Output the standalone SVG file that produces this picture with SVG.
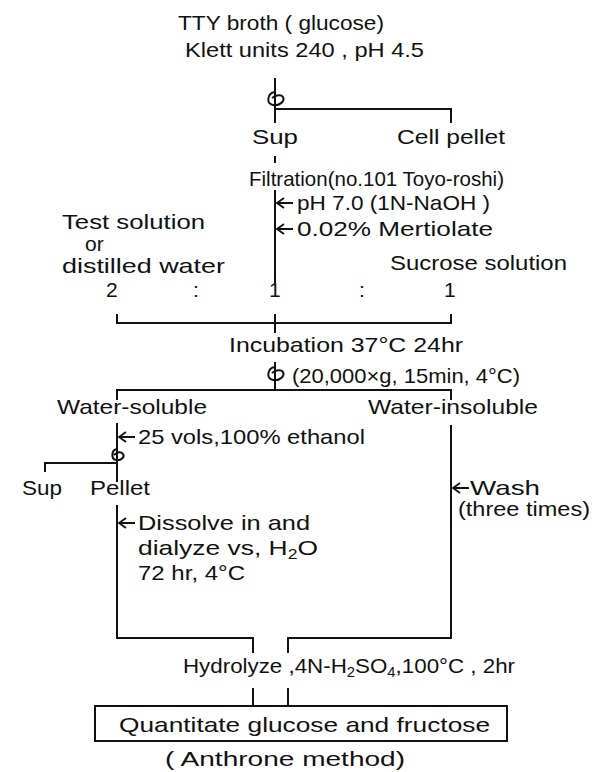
<svg xmlns="http://www.w3.org/2000/svg" width="592" height="772" viewBox="0 0 592 772">
<style>
text{font-family:"Liberation Sans",Arial,sans-serif;font-size:21px;fill:#111}
.l{stroke:#111;stroke-width:2;fill:none}
.a{stroke:#111;stroke-width:1.8;fill:none}
.c{stroke:#111;stroke-width:2;fill:none}
</style>
<rect width="592" height="772" fill="#fff"/>
<g id="connectors">
<path class="l" d="M275,78 V123 M275,109 H451 V123"/>
<path class="l" d="M275,156 V163"/>
<path class="l" d="M275,190 V283"/>
<path class="l" d="M117,314 V323 H451 V314 M275,314 V333"/>
<path class="l" d="M275,362 V390 M117,400 V390 H451 V400"/>
<path class="l" d="M117,423 V482 M45,472 V463 H117"/>
<path class="l" d="M117,505 V638 H253 V653 M451,425 V638 H288 V653"/>
<path class="l" d="M253,688 V706 M288,688 V706"/>
<!-- arrows -->
<path class="a" d="M277,203 H293 M284,198 L277,203 L284,208"/>
<path class="a" d="M277,229 H293 M284,224 L277,229 L284,234"/>
<path class="a" d="M119,437 H135 M126,432 L119,437 L126,442"/>
<path class="a" d="M119,523 H135 M126,518 L119,523 L126,528"/>
<path class="a" d="M453,488 H469 M460,483 L453,488 L460,493"/>
<!-- centrifuge symbols -->
<path class="c" d="M275,92 C267,93 266,104 273,105 C280,106 285,101 283,97 C281,94 276,95 272,98"/>
<path class="c" d="M275,367 C267,368 266,379 273,380 C280,381 285,376 283,372 C281,369 276,370 272,373"/>
<path class="c" d="M117,449 C111,450 111,459 116,460 C121,461 125,457 123,454 C121,451 117,452 114,455"/>
</g>
<g id="n-broth"><text x="178" y="30" textLength="206" lengthAdjust="spacingAndGlyphs">TTY broth ( glucose)</text><text x="185" y="57" textLength="239" lengthAdjust="spacingAndGlyphs">Klett units 240 , pH 4.5</text></g>
<g id="n-sup1"><text x="252" y="144" textLength="46" lengthAdjust="spacingAndGlyphs">Sup</text></g>
<g id="n-cell"><text x="397" y="144" textLength="108" lengthAdjust="spacingAndGlyphs">Cell pellet</text></g>
<g id="n-filt"><text x="249" y="186" textLength="255" lengthAdjust="spacingAndGlyphs">Filtration(no.101 Toyo-roshi)</text></g>
<g id="n-ph"><text x="297" y="210" textLength="193" lengthAdjust="spacingAndGlyphs">pH 7.0 (1N-NaOH )</text></g>
<g id="n-mert"><text x="297" y="236" textLength="196" lengthAdjust="spacingAndGlyphs">0.02% Mertiolate</text></g>
<g id="n-test"><text x="62" y="229" textLength="143" lengthAdjust="spacingAndGlyphs">Test solution</text><text x="85" y="251" font-size="16">or</text><text x="62" y="273" textLength="163" lengthAdjust="spacingAndGlyphs">distilled water</text></g>
<g id="n-sucrose"><text x="390" y="270" textLength="177" lengthAdjust="spacingAndGlyphs">Sucrose solution</text></g>
<g id="n-ratio"><text x="106" y="297">2</text><text x="193" y="297">:</text><text x="269" y="297">1</text><text x="359" y="297">:</text><text x="444" y="297">1</text></g>
<g id="n-incub"><text x="229" y="352" textLength="234" lengthAdjust="spacingAndGlyphs">Incubation 37°C 24hr</text></g>
<g id="n-cent"><text x="292" y="383" textLength="228" lengthAdjust="spacingAndGlyphs">(20,000×g, 15min, 4°C)</text></g>
<g id="n-ws"><text x="57" y="414" textLength="150" lengthAdjust="spacingAndGlyphs">Water-soluble</text></g>
<g id="n-wi"><text x="368" y="414" textLength="170" lengthAdjust="spacingAndGlyphs">Water-insoluble</text></g>
<g id="n-eth"><text x="138" y="444" textLength="227" lengthAdjust="spacingAndGlyphs">25 vols,100% ethanol</text></g>
<g id="n-sup2"><text x="22" y="495" textLength="40" lengthAdjust="spacingAndGlyphs">Sup</text></g>
<g id="n-pellet"><text x="90" y="495" textLength="60" lengthAdjust="spacingAndGlyphs">Pellet</text></g>
<g id="n-wash"><text x="470" y="495" textLength="70" lengthAdjust="spacingAndGlyphs">Wash</text><text x="458" y="516" textLength="132" lengthAdjust="spacingAndGlyphs">(three times)</text></g>
<g id="n-dialyze"><text x="138" y="530" textLength="172" lengthAdjust="spacingAndGlyphs">Dissolve in and</text><text x="138" y="555" textLength="180" lengthAdjust="spacingAndGlyphs">dialyze vs, H<tspan font-size="14" dy="4">2</tspan><tspan dy="-4">O</tspan></text><text x="138" y="580" textLength="107" lengthAdjust="spacingAndGlyphs">72 hr, 4°C</text></g>
<g id="n-hydro"><text x="183" y="673" textLength="332" lengthAdjust="spacingAndGlyphs">Hydrolyze ,4N-H<tspan font-size="14" dy="4">2</tspan><tspan dy="-4">SO</tspan><tspan font-size="14" dy="4">4</tspan><tspan dy="-4">,100°C , 2hr</tspan></text></g>
<g id="n-quant"><rect x="95" y="706" width="412" height="35" fill="none" stroke="#111" stroke-width="2"/><text x="119" y="732" textLength="371" lengthAdjust="spacingAndGlyphs">Quantitate glucose and fructose</text></g>
<g id="n-anth"><text x="165" y="766" textLength="240" lengthAdjust="spacingAndGlyphs">( Anthrone method)</text></g>
</svg>
